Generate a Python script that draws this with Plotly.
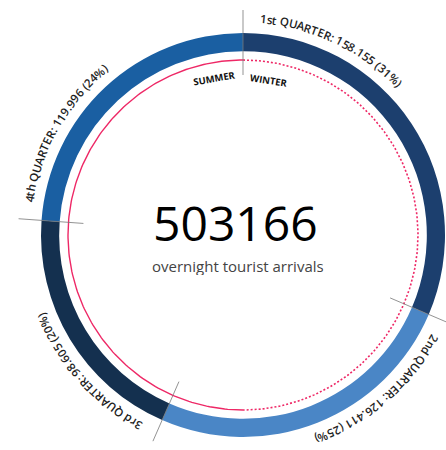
import numpy as np
import plotly.graph_objects as go

# ---------------- data ----------------
quarters = ["1st", "2nd", "3rd", "4th"]
arrivals = [158155, 126411, 98605, 119996]
total_label = "503166"
subtitle = "overnight tourist arrivals"
season_labels = ["SUMMER", "WINTER"]
ring_colors = ["#1c3f6e", "#4a86c6", "#14304f", "#1a5fa2"]

# ---------------- geometry / style ----------------
W, H = 446, 450
CX, CY = 243, 235          # circle centre in pixels (from top-left)
R_OUT = 202
HOLE = 0.91
R_PINK = 175
R_TEXT = 217
SEP_R = (160, 225)
PINK = "#ee2866"
LABEL_SIZE = 11.5
LABEL_OFFSET = 4.5          # degrees after each segment start

# Open Sans advance widths (units / 2048)
CHAR_W = {' ': 532, '(': 604, ')': 604, '%': 1716, '.': 561, ':': 561,
          'A': 1296, 'E': 1139, 'Q': 1597, 'R': 1276, 'T': 1128, 'U': 1499,
          'd': 1255, 'h': 1257, 'n': 1257, 'r': 836, 's': 977, 't': 723}

total = sum(arrivals)
shares = [round(100 * v / total) for v in arrivals]
labels = [f"{q} QUARTER: {v:,}".replace(",", ".") + f" ({s}%)"
          for q, v, s in zip(quarters, arrivals, shares)]
cum = np.concatenate([[0], np.cumsum(arrivals)]) / total
bounds_deg = cum[:-1] * 360.0

fig = go.Figure()

# ring
fig.add_trace(go.Pie(
    values=arrivals, labels=labels, sort=False, direction="clockwise", rotation=0,
    hole=HOLE, marker=dict(colors=ring_colors, line=dict(width=0)),
    textinfo="none", hoverinfo="skip", showlegend=False,
    domain=dict(x=[(CX - R_OUT) / W, (CX + R_OUT) / W],
                y=[(H - CY - R_OUT) / H, (H - CY + R_OUT) / H]),
))

# pink inner circle: winter (right half, dotted), summer (left half, solid)
th_w = np.radians(np.linspace(0, 180, 181))
th_s = np.radians(np.linspace(180, 360, 181))
fig.add_trace(go.Scatter(x=R_PINK * np.sin(th_w), y=R_PINK * np.cos(th_w), mode="lines",
                         line=dict(color=PINK, width=1.6, dash="2px,2px"),
                         hoverinfo="skip", showlegend=False))
fig.add_trace(go.Scatter(x=R_PINK * np.sin(th_s), y=R_PINK * np.cos(th_s), mode="lines",
                         line=dict(color=PINK, width=1.4),
                         hoverinfo="skip", showlegend=False))

# separator lines
shapes = []
for b in bounds_deg:
    t = np.radians(b)
    shapes.append(dict(type="line", xref="x", yref="y", layer="above",
                       x0=SEP_R[0] * np.sin(t), y0=SEP_R[0] * np.cos(t),
                       x1=SEP_R[1] * np.sin(t), y1=SEP_R[1] * np.cos(t),
                       line=dict(color="rgba(120,120,120,0.8)", width=1)))

annotations = []


def curved(text, start_deg, r, size):
    em = size * 1.04
    pos = 0.0
    for c in text:
        w = CHAR_W.get(c, 1171) / 2048 * em
        if c != ' ':
            th = start_deg + np.degrees((pos + w / 2) / r)
            t = np.radians(th)
            ta = th if th <= 180 else th - 360
            annotations.append(dict(
                x=r * np.sin(t), y=r * np.cos(t), xref="x", yref="y", text=c,
                textangle=ta, showarrow=False, xanchor="center", yanchor="middle",
                font=dict(family="Open Sans", size=size, color="#1e1e1e", weight=600)))
        pos += w


for lab, b in zip(labels, bounds_deg):
    curved(lab, b + LABEL_OFFSET, R_TEXT, LABEL_SIZE)

# season labels
annotations.append(dict(x=-29, y=157, xref="x", yref="y", text=season_labels[0],
                        textangle=-10, showarrow=False,
                        font=dict(family="Open Sans", size=9.5, color="#111", weight=700)))
annotations.append(dict(x=26, y=155, xref="x", yref="y", text=season_labels[1],
                        textangle=9, showarrow=False,
                        font=dict(family="Open Sans", size=9.5, color="#111", weight=700)))

# centre text
annotations.append(dict(x=-8, y=13.5, xref="x", yref="y", text=total_label, showarrow=False,
                        height=46, valign="middle",
                        font=dict(family="Open Sans", size=48, color="#000")))
annotations.append(dict(x=-5, y=-30.5, xref="x", yref="y", text=subtitle, showarrow=False,
                        height=18, valign="middle",
                        font=dict(family="Open Sans", size=15, color="#444")))

fig.update_layout(
    width=W, height=H, autosize=False,
    margin=dict(l=0, r=0, t=0, b=0),
    paper_bgcolor="white", plot_bgcolor="white",
    xaxis=dict(range=[-CX, W - CX], visible=False, fixedrange=True),
    yaxis=dict(range=[-(H - CY), CY], visible=False, fixedrange=True),
    shapes=shapes, annotations=annotations, showlegend=False,
)

fig.write_html("out.html", config={"displayModeBar": False},
               post_script="document.body.style.margin='0px';")
